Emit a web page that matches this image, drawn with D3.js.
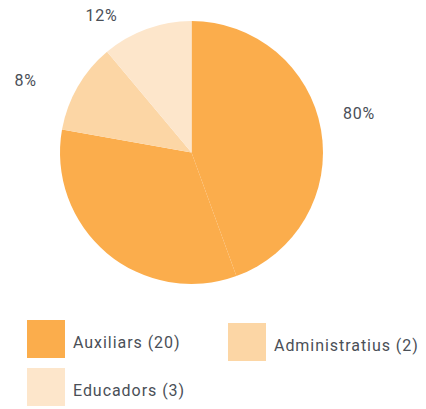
<!DOCTYPE html>
<html>
<head>
<meta charset="utf-8">
<script src="https://cdn.jsdelivr.net/npm/d3@7"></script>
<style>
  html, body { margin: 0; padding: 0; background: #fff; }
  svg { display: block; font-family: Roboto, "Noto Sans", sans-serif; }
</style>
</head>
<body>
<svg id="chart" width="426" height="409"></svg>
<script>
// ---- data ----
const categories = ["Auxiliars", "Administratius", "Educadors"];
const counts = [20, 2, 3];
const percentLabels = ["80%", "8%", "12%"];
// slice shares as drawn in the picture (percent of the circle)
const sliceShares = [77.8, 11.1, 11.1];
const colors = ["#FBAD4C", "#FCD6A5", "#FDE6CB"];

// ---- layout ----
const cx = 191.5, cy = 152.5, R = 131.5;
const textColor = "#4A4F57";

const svg = d3.select("#chart");
const g = svg.append("g").attr("transform", `translate(${cx},${cy})`);

const pie = d3.pie().sort(null).value(d => d.share).startAngle(0).endAngle(2 * Math.PI);
const data = categories.map((c, i) => ({ cat: c, share: sliceShares[i], color: colors[i], count: counts[i], pct: percentLabels[i] }));
const arcs = pie(data);
const arc = d3.arc().innerRadius(0).outerRadius(R);

// the large slice is rendered in two pieces (visible faint seam in the reference)
const pieces = [];
arcs.forEach((a, i) => {
  if (i === 0) {
    const split = a.startAngle + (a.endAngle - a.startAngle) * (4 / 7);
    pieces.push({ startAngle: a.startAngle, endAngle: split, color: a.data.color });
    pieces.push({ startAngle: split, endAngle: a.endAngle, color: a.data.color });
  } else {
    pieces.push({ startAngle: a.startAngle, endAngle: a.endAngle, color: a.data.color });
  }
});

g.selectAll("path.slice").data(pieces).join("path")
  .attr("class", "slice")
  .attr("d", arc)
  .attr("fill", d => d.color);

// percentage labels (positions relative to chart center)
const labelPos = [[167.5, 119], [-166, 86], [-90, 21]];
svg.selectAll("text.pct").data(arcs).join("text")
  .attr("class", "pct")
  .attr("x", (d, i) => cx + labelPos[i][0])
  .attr("y", (d, i) => labelPos[i][1])
  .attr("text-anchor", "middle")
  .attr("font-size", 16)
  .attr("letter-spacing", 0.7)
  .attr("fill", textColor)
  .text(d => d.data.pct);

// legend
const legendPos = [[27, 320, 73, 348], [228, 323, 274, 351], [27, 368, 73, 396]];
const leg = svg.selectAll("g.leg").data(data).join("g").attr("class", "leg");
leg.append("rect")
  .attr("x", (d, i) => legendPos[i][0])
  .attr("y", (d, i) => legendPos[i][1])
  .attr("width", 38).attr("height", 38)
  .attr("fill", d => d.color);
leg.append("text")
  .attr("x", (d, i) => legendPos[i][2])
  .attr("y", (d, i) => legendPos[i][3])
  .attr("font-size", 16)
  .attr("letter-spacing", 0.95)
  .attr("fill", textColor)
  .text(d => `${d.cat} (${d.count})`);
</script>
</body>
</html>
